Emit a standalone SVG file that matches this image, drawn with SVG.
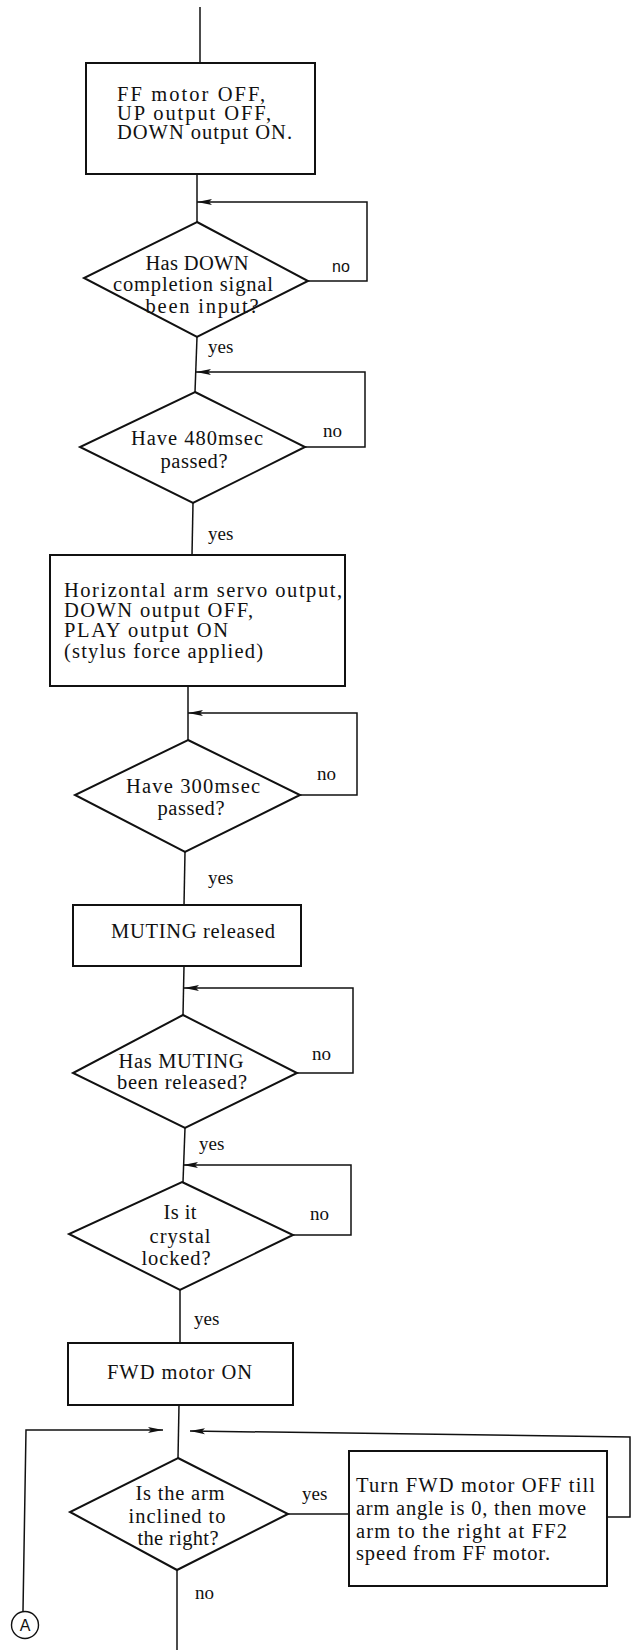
<svg xmlns="http://www.w3.org/2000/svg" width="636" height="1650" viewBox="0 0 636 1650">
<style>
.shape{fill:#fff;stroke:#111;stroke-width:2}
.ln{fill:none;stroke:#111;stroke-width:1.5}
.t{font-family:"Liberation Serif","Times New Roman",serif;font-size:20.5px;fill:#111}
.m{text-anchor:middle}
.lb{font-family:"Liberation Serif","Times New Roman",serif;font-size:19px;fill:#111}
.sans{font-family:"Liberation Sans",Arial,sans-serif;font-size:16px;fill:#111}
</style>
<defs>
<marker id="arr" markerUnits="userSpaceOnUse" markerWidth="16" markerHeight="8" refX="15" refY="4" orient="auto">
<path d="M0,1 L15,4 L0,7 L3,4 z" fill="#111"/>
</marker>
</defs>
<rect width="636" height="1650" fill="#fff"/>

<g id="connectors">
<path class="ln" d="M200,7 V63"/>
<path class="ln" d="M197,174 V222"/>
<path class="ln" d="M308,281 H367 V202 H197" marker-end="url(#arr)"/>
<path class="ln" d="M197,337 L195,392"/>
<path class="ln" d="M305,447 H365 V372 H196" marker-end="url(#arr)"/>
<path class="ln" d="M193,503 L192,555"/>
<path class="ln" d="M188,686 V740"/>
<path class="ln" d="M300,795 H357 V713 H188" marker-end="url(#arr)"/>
<path class="ln" d="M185,852 L184,905"/>
<path class="ln" d="M184,966 L183,1015"/>
<path class="ln" d="M297,1073 H353 V988 H184" marker-end="url(#arr)"/>
<path class="ln" d="M185,1128 L183,1182"/>
<path class="ln" d="M293,1235 H351 V1165 H183" marker-end="url(#arr)"/>
<path class="ln" d="M180,1290 L180,1343"/>
<path class="ln" d="M179,1405 L178,1458"/>
<path class="ln" d="M288,1514 H349"/>
<path class="ln" d="M607,1517 H630 V1437 L190,1431" marker-end="url(#arr)"/>
<path class="ln" d="M23,1611 L26,1430 H163" marker-end="url(#arr)"/>
<path class="ln" d="M177,1570 V1650"/>
</g>

<g id="box1">
<rect class="shape" x="86" y="63" width="229" height="111"/>
<text class="t" x="117" y="101" textLength="148" lengthAdjust="spacing">FF motor OFF,</text>
<text class="t" x="117" y="120" textLength="154" lengthAdjust="spacing">UP output OFF,</text>
<text class="t" x="117" y="139" textLength="175" lengthAdjust="spacing">DOWN output ON.</text>
</g>

<g id="dec1">
<polygon class="shape" points="197,222 308,281 197,337 84,278"/>
<text class="t m" x="197" y="270" textLength="103" lengthAdjust="spacing">Has DOWN</text>
<text class="t m" x="193" y="291" textLength="160" lengthAdjust="spacing">completion signal</text>
<text class="t m" x="202" y="313" textLength="113" lengthAdjust="spacing">been input?</text>
<text class="sans" x="332" y="272">no</text>
<text class="lb" x="208" y="353">yes</text>
</g>

<g id="dec2">
<polygon class="shape" points="195,392 305,447 193,503 80,447"/>
<text class="t m" x="197" y="445" textLength="132" lengthAdjust="spacing">Have 480msec</text>
<text class="t m" x="194" y="468" textLength="67" lengthAdjust="spacing">passed?</text>
<text class="lb" x="323" y="437">no</text>
<text class="lb" x="208" y="540">yes</text>
</g>

<g id="box2">
<rect class="shape" x="50" y="555" width="295" height="131"/>
<text class="t" x="64" y="597" textLength="278" lengthAdjust="spacing">Horizontal arm servo output,</text>
<text class="t" x="64" y="617" textLength="189" lengthAdjust="spacing">DOWN output OFF,</text>
<text class="t" x="64" y="637" textLength="164" lengthAdjust="spacing">PLAY output ON</text>
<text class="t" x="64" y="658" textLength="199" lengthAdjust="spacing">(stylus force applied)</text>
</g>

<g id="dec3">
<polygon class="shape" points="188,740 300,795 185,852 75,795"/>
<text class="t m" x="193" y="793" textLength="134" lengthAdjust="spacing">Have 300msec</text>
<text class="t m" x="191" y="815" textLength="67" lengthAdjust="spacing">passed?</text>
<text class="lb" x="317" y="780">no</text>
<text class="lb" x="208" y="884">yes</text>
</g>

<g id="box3">
<rect class="shape" x="73" y="905" width="228" height="61"/>
<text class="t" x="111" y="938" textLength="164" lengthAdjust="spacing">MUTING released</text>
</g>

<g id="dec4">
<polygon class="shape" points="183,1015 297,1073 185,1128 73,1073"/>
<text class="t m" x="181" y="1068" textLength="125" lengthAdjust="spacing">Has MUTING</text>
<text class="t m" x="182" y="1089" textLength="130" lengthAdjust="spacing">been released?</text>
<text class="lb" x="312" y="1060">no</text>
<text class="lb" x="199" y="1150">yes</text>
</g>

<g id="dec5">
<polygon class="shape" points="182,1182 293,1235 180,1290 69,1234"/>
<text class="t m" x="180" y="1219" textLength="33" lengthAdjust="spacing">Is it</text>
<text class="t m" x="180" y="1243" textLength="61" lengthAdjust="spacing">crystal</text>
<text class="t m" x="176" y="1265" textLength="69" lengthAdjust="spacing">locked?</text>
<text class="lb" x="310" y="1220">no</text>
<text class="lb" x="194" y="1325">yes</text>
</g>

<g id="box4">
<rect class="shape" x="68" y="1343" width="225" height="62"/>
<text class="t" x="107" y="1379" textLength="145" lengthAdjust="spacing">FWD motor ON</text>
</g>

<g id="dec6">
<polygon class="shape" points="178,1458 288,1514 177,1570 70,1512"/>
<text class="t m" x="180" y="1500" textLength="89" lengthAdjust="spacing">Is the arm</text>
<text class="t m" x="177" y="1523" textLength="97" lengthAdjust="spacing">inclined to</text>
<text class="t m" x="178" y="1545" textLength="81" lengthAdjust="spacing">the right?</text>
<text class="lb" x="302" y="1500">yes</text>
<text class="lb" x="195" y="1599">no</text>
</g>

<g id="box5">
<rect class="shape" x="349" y="1451" width="258" height="135"/>
<text class="t" x="356" y="1492" textLength="239" lengthAdjust="spacing">Turn FWD motor OFF till</text>
<text class="t" x="356" y="1515" textLength="230" lengthAdjust="spacing">arm angle is 0, then move</text>
<text class="t" x="356" y="1538" textLength="211" lengthAdjust="spacing">arm to the right at FF2</text>
<text class="t" x="356" y="1560" textLength="194" lengthAdjust="spacing">speed from FF motor.</text>
</g>

<g id="connectorA">
<circle cx="25" cy="1625" r="13.5" fill="#fff" stroke="#111" stroke-width="1.4"/>
<text class="sans m" x="25" y="1631" font-size="17">A</text>
</g>
</svg>
